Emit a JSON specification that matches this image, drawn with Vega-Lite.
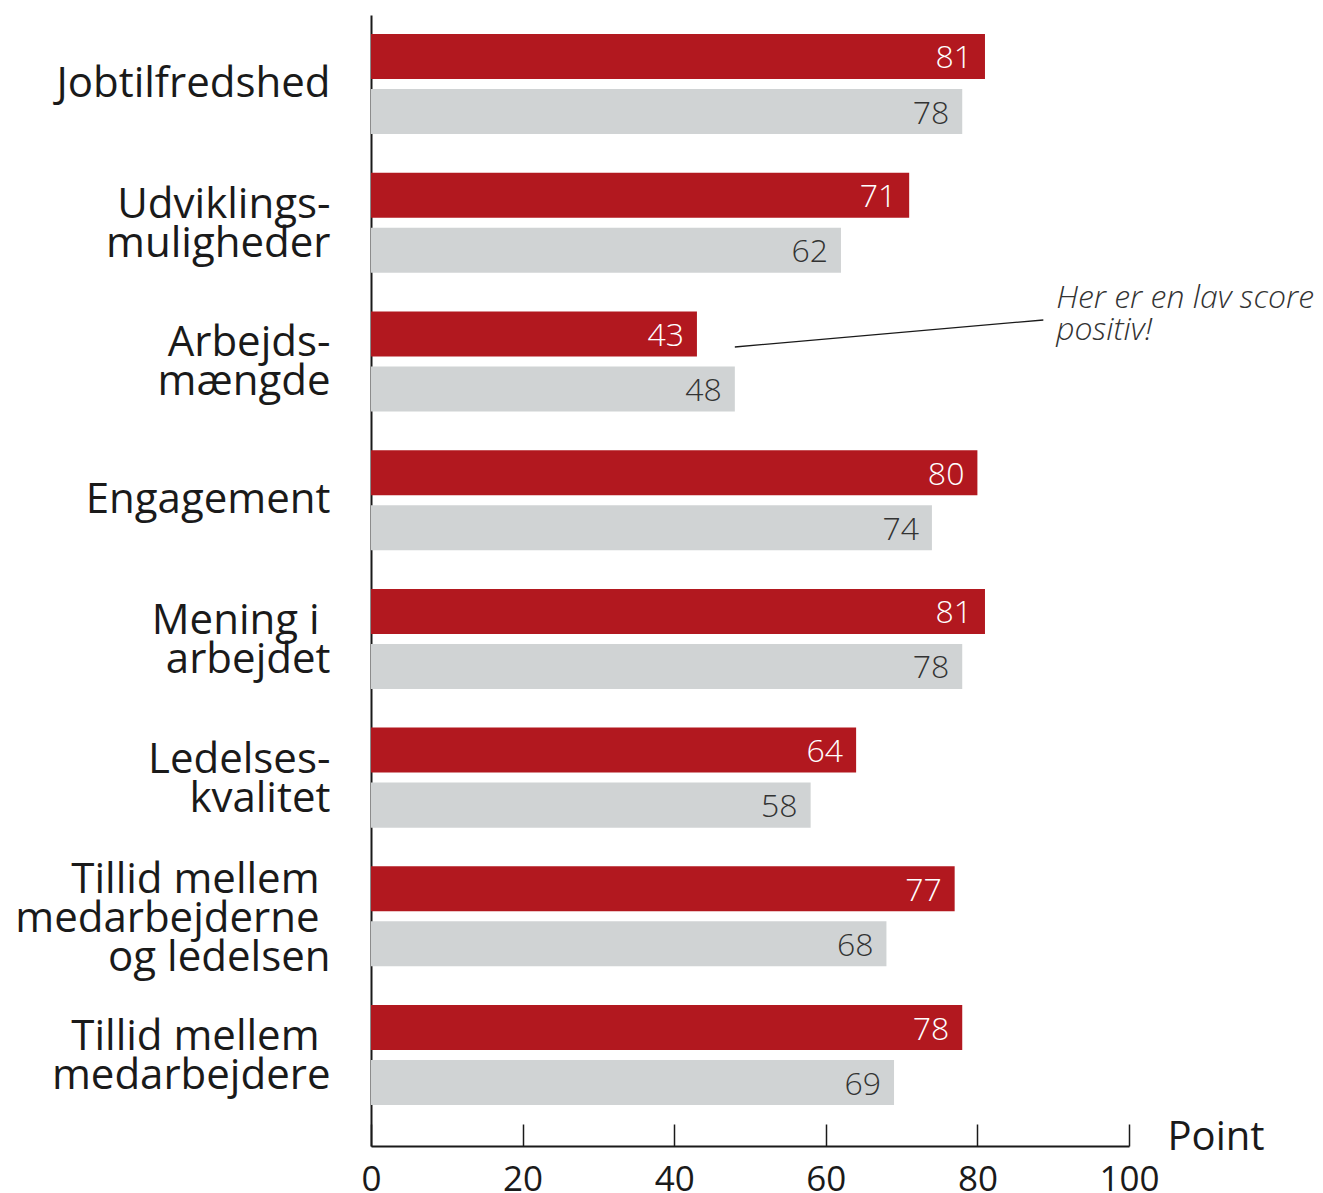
{
  "$schema": "https://vega.github.io/schema/vega-lite/v6.json",
  "width": 758,
  "height": 1131,
  "autosize": {"type": "none"},
  "padding": {"left": 371, "top": 15, "right": 194, "bottom": 47},
  "background": "white",
  "config": {"view": {"stroke": null}, "font": "Open Sans"},
  "datasets": {
    "scores": [
      {"category": "Jobtilfredshed", "series": "Virksomheden", "value": 81},
      {"category": "Jobtilfredshed", "series": "Benchmark", "value": 78},
      {"category": "Udviklings-|muligheder", "series": "Virksomheden", "value": 71},
      {"category": "Udviklings-|muligheder", "series": "Benchmark", "value": 62},
      {"category": "Arbejds-|mængde", "series": "Virksomheden", "value": 43},
      {"category": "Arbejds-|mængde", "series": "Benchmark", "value": 48},
      {"category": "Engagement", "series": "Virksomheden", "value": 80},
      {"category": "Engagement", "series": "Benchmark", "value": 74},
      {"category": "Mening i \u200b|arbejdet", "series": "Virksomheden", "value": 81},
      {"category": "Mening i \u200b|arbejdet", "series": "Benchmark", "value": 78},
      {"category": "Ledelses-|kvalitet", "series": "Virksomheden", "value": 64},
      {"category": "Ledelses-|kvalitet", "series": "Benchmark", "value": 58},
      {"category": "Tillid mellem \u200b|medarbejderne \u200b|og ledelsen", "series": "Virksomheden", "value": 77},
      {"category": "Tillid mellem \u200b|medarbejderne \u200b|og ledelsen", "series": "Benchmark", "value": 68},
      {"category": "Tillid mellem \u200b|medarbejdere", "series": "Virksomheden", "value": 78},
      {"category": "Tillid mellem \u200b|medarbejdere", "series": "Benchmark", "value": 69}
    ],
    "note": [
      {"x1": 48.0, "x2": 88.7, "y1": 332, "y2": 305, "tx": 90.4, "ty": 293, "label": "Her er en lav score\npositiv!"}
    ]
  },
  "layer": [
    {
      "data": {"name": "scores"},
      "encoding": {
        "y": {
          "field": "category", "type": "nominal", "sort": null, "title": null,
          "scale": {"paddingInner": 0.279, "paddingOuter": 0.216, "align": 0.317},
          "axis": {
            "domain": true, "domainColor": "#1a1a1a", "domainWidth": 2,
            "ticks": false, "grid": false,
            "labelPadding": 41, "labelFontSize": 42, "labelColor": "#1a1a1a",
            "labelLineHeight": 39, "labelLimit": 0,
            "labelExpr": "split(datum.label, '|')",
            "labelOffset": {
              "condition": [
                {"test": "length(split(datum.label, '|')) == 3", "value": -36},
                {"test": "length(split(datum.label, '|')) == 2", "value": -18}
              ],
              "value": 0
            }
          }
        },
        "yOffset": {
          "field": "series", "type": "nominal", "sort": ["Virksomheden", "Benchmark"],
          "scale": {"paddingInner": 0.182, "paddingOuter": 0}
        },
        "x": {
          "field": "value", "type": "quantitative", "title": "Point",
          "scale": {"domain": [0, 100], "nice": false},
          "axis": {
            "values": [0, 20, 40, 60, 80, 100], "grid": false,
            "domainColor": "#1a1a1a", "domainWidth": 2,
            "tickSize": -22, "tickColor": "#1a1a1a", "tickWidth": 1.5,
            "labelFontSize": 35, "labelColor": "#1a1a1a", "labelPadding": 38, "labelFlush": false,
            "titleFontSize": 40, "titleFontWeight": "normal", "titleColor": "#1a1a1a",
            "titleAlign": "left", "titleBaseline": "alphabetic", "titleAngle": 0,
            "titleX": 796, "titleY": 3
          }
        }
      },
      "layer": [
        {
          "mark": {"type": "bar"},
          "encoding": {
            "color": {
              "field": "series", "type": "nominal", "legend": null,
              "scale": {"domain": ["Virksomheden", "Benchmark"], "range": ["#B2181F", "#D0D3D4"]}
            }
          }
        },
        {
          "mark": {"type": "text", "align": "right", "baseline": "middle", "dx": -13, "dy": 2, "fontSize": 32, "fontWeight": 300},
          "encoding": {
            "text": {"field": "value", "type": "quantitative"},
            "color": {
              "condition": {"test": "datum.series === 'Virksomheden'", "value": "white"},
              "value": "#333333"
            }
          }
        }
      ]
    },
    {
      "data": {"name": "note"},
      "mark": {"type": "rule", "color": "#1a1a1a", "strokeWidth": 1.3},
      "encoding": {
        "x": {"field": "x1", "type": "quantitative", "title": "Point", "scale": {"domain": [0, 100], "nice": false}},
        "x2": {"field": "x2"},
        "y": {"field": "y1", "type": "quantitative", "axis": null, "scale": {"domain": [0, 1131], "reverse": true, "nice": false, "zero": false}},
        "y2": {"field": "y2"}
      }
    },
    {
      "data": {"name": "note"},
      "mark": {"type": "text", "align": "left", "baseline": "alphabetic", "lineBreak": "\n", "lineHeight": 32, "fontSize": 32, "fontStyle": "italic", "fontWeight": 300, "color": "#333333"},
      "encoding": {
        "x": {"field": "tx", "type": "quantitative", "title": "Point", "scale": {"domain": [0, 100], "nice": false}},
        "y": {"field": "ty", "type": "quantitative", "axis": null, "scale": {"domain": [0, 1131], "reverse": true, "nice": false, "zero": false}},
        "text": {"field": "label"}
      }
    }
  ],
  "resolve": {"scale": {"y": "independent"}}
}
